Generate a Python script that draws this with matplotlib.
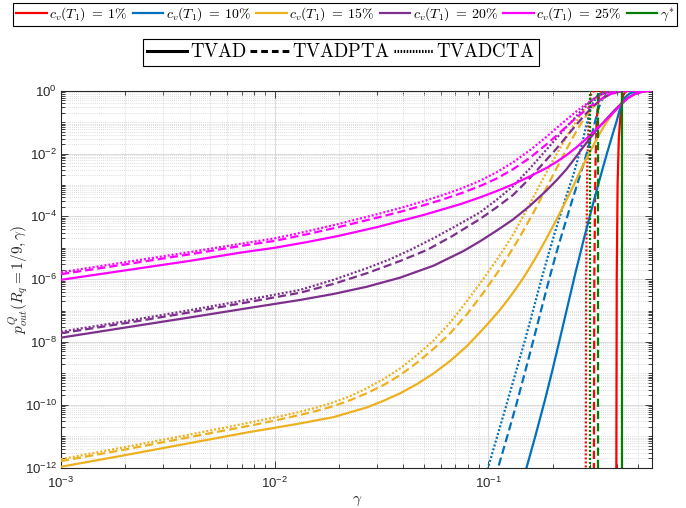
import numpy as np
import matplotlib
matplotlib.use("Agg")
import matplotlib.pyplot as plt
from matplotlib.lines import Line2D
from matplotlib.font_manager import FontProperties
from matplotlib.ticker import FixedLocator, LogLocator, FuncFormatter, NullFormatter

plt.rcParams['font.family'] = ['Liberation Sans', 'DejaVu Sans']
plt.rcParams['mathtext.fontset'] = 'custom'
plt.rcParams['mathtext.rm'] = 'Liberation Sans'
plt.rcParams['mathtext.it'] = 'Liberation Sans:italic'
plt.rcParams['mathtext.bf'] = 'Liberation Sans:bold'
plt.rcParams['mathtext.sf'] = 'Liberation Sans'

# ---- data: log10(gamma) and log10(p_out) ----
# cv = 25% (magenta)
m_s_lg = [-3, -2.7, -2.4, -2.156, -2.0, -1.85, -1.7, -1.52, -1.3, -1.126, -1.041, -0.963, -0.885, -0.807, -0.729, -0.68, -0.635, -0.588, -0.541, -0.494, -0.448, -0.41, -0.377, -0.35, -0.32, -0.29, -0.26, -0.234]
m_s_lp = [-6.02, -5.72, -5.42, -5.15, -5.0, -4.82, -4.62, -4.34, -3.95, -3.60, -3.40, -3.20, -2.98, -2.73, -2.46, -2.26, -2.05, -1.80, -1.52, -1.22, -0.92, -0.66, -0.42, -0.25, -0.12, -0.05, -0.015, 0]
m_d_lg = [-3, -2.7, -2.4, -2.156, -2.0, -1.85, -1.7, -1.52, -1.41, -1.3, -1.213, -1.126, -1.041, -0.963, -0.885, -0.807, -0.729, -0.68, -0.635, -0.596, -0.557, -0.52, -0.487, -0.46, -0.43, -0.40, -0.37, -0.34, -0.234]
m_d_lp = [-5.84, -5.53, -5.21, -4.94, -4.78, -4.57, -4.34, -4.04, -3.85, -3.64, -3.46, -3.26, -3.04, -2.80, -2.50, -2.14, -1.71, -1.42, -1.14, -0.90, -0.68, -0.48, -0.33, -0.21, -0.11, -0.05, -0.02, -0.005, 0]
m_o_lg = [-3, -2.7, -2.4, -2.156, -2.0, -1.85, -1.7, -1.52, -1.41, -1.3, -1.213, -1.126, -1.041, -0.963, -0.885, -0.807, -0.729, -0.68, -0.635, -0.596, -0.56, -0.526, -0.5, -0.47, -0.44, -0.41, -0.38, -0.234]
m_o_lp = [-5.78, -5.46, -5.14, -4.87, -4.70, -4.48, -4.24, -3.93, -3.73, -3.51, -3.32, -3.11, -2.87, -2.60, -2.28, -1.90, -1.47, -1.18, -0.92, -0.70, -0.51, -0.35, -0.23, -0.12, -0.05, -0.02, -0.005, 0]

# cv = 20% (purple)
p_s_lg = [-3, -2.7, -2.4, -2.115, -1.881, -1.725, -1.569, -1.413, -1.257, -1.116, -1.041, -0.963, -0.885, -0.807, -0.729, -0.68, -0.635, -0.588, -0.541, -0.494, -0.448, -0.41, -0.377, -0.35, -0.32, -0.29, -0.26, -0.234]
p_s_lp = [-7.86, -7.54, -7.22, -6.91, -6.66, -6.47, -6.24, -5.95, -5.57, -5.10, -4.80, -4.46, -4.10, -3.67, -3.18, -2.84, -2.50, -2.08, -1.65, -1.25, -0.90, -0.62, -0.40, -0.24, -0.12, -0.05, -0.015, 0]
p_d_lg = [-3, -2.7, -2.4, -2.115, -1.881, -1.725, -1.569, -1.413, -1.288, -1.17, -1.041, -0.963, -0.885, -0.807, -0.729, -0.68, -0.635, -0.596, -0.557, -0.52, -0.487, -0.46, -0.43, -0.40, -0.37, -0.34, -0.234]
p_d_lp = [-7.72, -7.40, -7.06, -6.72, -6.43, -6.15, -5.81, -5.42, -5.07, -4.63, -4.09, -3.72, -3.32, -2.79, -2.20, -1.83, -1.46, -1.14, -0.83, -0.56, -0.36, -0.22, -0.11, -0.05, -0.02, -0.005, 0]
p_o_lg = [-3, -2.7, -2.4, -2.115, -1.881, -1.725, -1.569, -1.466, -1.366, -1.25, -1.145, -1.041, -0.963, -0.885, -0.807, -0.729, -0.68, -0.635, -0.595, -0.56, -0.526, -0.5, -0.47, -0.44, -0.41, -0.38, -0.234]
p_o_lp = [-7.67, -7.34, -6.99, -6.64, -6.34, -6.02, -5.65, -5.38, -5.07, -4.67, -4.28, -3.88, -3.48, -3.04, -2.48, -1.88, -1.50, -1.15, -0.86, -0.59, -0.36, -0.22, -0.11, -0.05, -0.02, -0.005, 0]

# cv = 15% (yellow)
y_s_lg = [-3, -2.7, -2.4, -2.115, -2.0, -1.881, -1.725, -1.569, -1.491, -1.413, -1.335, -1.257, -1.179, -1.101, -1.023, -0.985, -0.947, -0.91, -0.885, -0.853, -0.822, -0.776, -0.729, -0.69, -0.65, -0.611, -0.572, -0.533, -0.494, -0.455, -0.416, -0.377, -0.35, -0.32, -0.29, -0.26, -0.234]
y_s_lp = [-11.97, -11.60, -11.22, -10.86, -10.73, -10.59, -10.39, -10.08, -9.87, -9.63, -9.34, -9.0, -8.60, -8.13, -7.57, -7.28, -6.98, -6.66, -6.43, -6.12, -5.80, -5.28, -4.71, -4.21, -3.68, -3.14, -2.58, -2.04, -1.54, -1.08, -0.70, -0.40, -0.24, -0.12, -0.05, -0.015, 0]
y_d_lg = [-3, -2.7, -2.4, -2.115, -2.0, -1.881, -1.803, -1.725, -1.647, -1.569, -1.491, -1.413, -1.335, -1.257, -1.179, -1.101, -1.023, -0.955, -0.906, -0.853, -0.791, -0.729, -0.69, -0.65, -0.611, -0.572, -0.54, -0.51, -0.487, -0.46, -0.43, -0.40, -0.37, -0.34, -0.234]
y_d_lp = [-11.79, -11.42, -11.03, -10.66, -10.50, -10.32, -10.19, -10.04, -9.85, -9.63, -9.37, -9.05, -8.66, -8.22, -7.72, -7.12, -6.42, -5.76, -5.24, -4.65, -3.90, -3.10, -2.58, -2.06, -1.56, -1.10, -0.77, -0.52, -0.36, -0.22, -0.11, -0.05, -0.02, -0.005, 0]
y_o_lg = [-3, -2.7, -2.4, -2.115, -2.0, -1.881, -1.803, -1.725, -1.647, -1.569, -1.491, -1.413, -1.335, -1.257, -1.179, -1.101, -1.023, -0.963, -0.924, -0.885, -0.822, -0.76, -0.705, -0.65, -0.611, -0.572, -0.55, -0.526, -0.5, -0.47, -0.44, -0.41, -0.38, -0.234]
y_o_lp = [-11.73, -11.34, -10.95, -10.56, -10.40, -10.22, -10.08, -9.92, -9.72, -9.47, -9.18, -8.84, -8.42, -7.95, -7.38, -6.70, -5.98, -5.40, -5.00, -4.58, -3.80, -3.00, -2.30, -1.65, -1.20, -0.80, -0.58, -0.38, -0.24, -0.12, -0.05, -0.02, -0.005, 0]

# cv = 10% (blue)
b_s_lg = [-0.835, -0.822, -0.779, -0.736, -0.701, -0.666, -0.63, -0.595, -0.553, -0.51, -0.479, -0.448, -0.424, -0.401, -0.388, -0.377, -0.36, -0.34, -0.32, -0.30, -0.27, -0.234]
b_s_lp = [-12.3, -12.0, -10.95, -9.85, -8.90, -7.90, -6.86, -5.85, -4.70, -3.58, -2.80, -2.05, -1.50, -0.98, -0.66, -0.42, -0.21, -0.09, -0.04, -0.015, 0, 0]
b_d_lg = [-0.97, -0.955, -0.912, -0.869, -0.83, -0.791, -0.752, -0.713, -0.682, -0.65, -0.611, -0.572, -0.545, -0.518, -0.502, -0.487, -0.47, -0.45, -0.43, -0.40, -0.37, -0.234]
b_d_lp = [-12.3, -12.0, -11.0, -9.97, -8.98, -7.97, -6.94, -5.92, -5.15, -4.42, -3.55, -2.70, -2.10, -1.45, -1.00, -0.60, -0.30, -0.13, -0.05, -0.015, 0, 0]
b_o_lg = [-1.015, -1.002, -0.959, -0.916, -0.873, -0.83, -0.791, -0.752, -0.717, -0.682, -0.643, -0.604, -0.582, -0.56, -0.543, -0.526, -0.51, -0.49, -0.47, -0.44, -0.40, -0.234]
b_o_lp = [-12.3, -12.0, -11.0, -10.0, -8.98, -7.96, -6.98, -6.0, -5.15, -4.35, -3.50, -2.70, -2.18, -1.62, -1.12, -0.68, -0.38, -0.16, -0.06, -0.02, 0, 0]

# cv = 1% (red)
r_s_lg = [-0.402, -0.400, -0.396, -0.39, -0.383, -0.377, -0.37, -0.36, -0.35, -0.234]
r_s_lp = [-12.5, -6, -3, -1.5, -0.8, -0.40, -0.15, -0.04, 0, 0]
r_d_lg = [-0.507, -0.505, -0.5, -0.494, -0.487, -0.48, -0.47, -0.46, -0.234]
r_d_lp = [-12.5, -6, -2.5, -1.0, -0.36, -0.12, -0.03, 0, 0]
r_o_lg = [-0.545, -0.543, -0.538, -0.532, -0.526, -0.52, -0.51, -0.5, -0.234]
r_o_lp = [-12.5, -6, -2.5, -1, -0.36, -0.12, -0.03, 0, 0]

# gamma* (green vertical lines): TVAD, TVADPTA, TVADCTA
gamma_star = [0.420, 0.326, 0.298]

cv_labels = [r'$c_v(T_1)\;=\;1\%$', r'$c_v(T_1)\;=\;10\%$', r'$c_v(T_1)\;=\;15\%$',
             r'$c_v(T_1)\;=\;20\%$', r'$c_v(T_1)\;=\;25\%$', r'$\gamma^{*}$']
method_labels = [r'$\mathrm{TVAD}$', r'$\mathrm{TVADPTA}$', r'$\mathrm{TVADCTA}$']

colors = {'r': (1, 0, 0), 'b': (0, 0.447, 0.741), 'y': (0.929, 0.694, 0.125),
          'p': (0.494, 0.184, 0.556), 'm': (1, 0, 1), 'g': (0, 0.5, 0)}
LW = 1.6
styles = {'s': dict(linestyle='-'),
          'd': dict(linestyle=(0, (3.7, 1.8))),
          'o': dict(linestyle=(0, (0.9, 0.9)))}

fig = plt.figure(figsize=(6.86, 5.08), dpi=100)
ax = fig.add_axes([0.0889, 0.0793, 0.8622, 0.7422])

curves = [
    ('r', r_s_lg, r_s_lp, 's'), ('r', r_d_lg, r_d_lp, 'd'), ('r', r_o_lg, r_o_lp, 'o'),
    ('b', b_s_lg, b_s_lp, 's'), ('b', b_d_lg, b_d_lp, 'd'), ('b', b_o_lg, b_o_lp, 'o'),
    ('y', y_s_lg, y_s_lp, 's'), ('y', y_d_lg, y_d_lp, 'd'), ('y', y_o_lg, y_o_lp, 'o'),
    ('p', p_s_lg, p_s_lp, 's'), ('p', p_d_lg, p_d_lp, 'd'), ('p', p_o_lg, p_o_lp, 'o'),
    ('m', m_s_lg, m_s_lp, 's'), ('m', m_d_lg, m_d_lp, 'd'), ('m', m_o_lg, m_o_lp, 'o'),
]
for c, lg, lp, st in curves:
    ax.plot(10.0 ** np.array(lg), 10.0 ** np.array(lp), color=colors[c], lw=LW,
            **styles[st], zorder=3, solid_joinstyle='round')
for g, st in zip(gamma_star, ['s', 'd', 'o']):
    ax.plot([g, g], [1e-12, 1], color=colors['g'], lw=LW, **styles[st], zorder=3)

ax.set_xscale('log')
ax.set_yscale('log')
ax.set_xlim(1e-3, 0.585)
ax.set_ylim(1e-12, 1)

ax.xaxis.set_major_locator(FixedLocator([1e-3, 1e-2, 1e-1]))
ax.xaxis.set_minor_locator(LogLocator(base=10, subs=np.arange(2, 10), numticks=20))
ax.yaxis.set_major_locator(FixedLocator([10.0 ** e for e in range(-12, 1, 2)]))
ax.yaxis.set_minor_locator(LogLocator(base=10, subs=np.arange(1, 10), numticks=30))

def fmt(v, pos):
    e = int(round(np.log10(v)))
    return r'$10^{%d}$' % e

ax.xaxis.set_major_formatter(FuncFormatter(fmt))
ax.yaxis.set_major_formatter(FuncFormatter(fmt))
ax.xaxis.set_minor_formatter(NullFormatter())
ax.yaxis.set_minor_formatter(NullFormatter())

tc = '#262626'
ax.tick_params(which='both', direction='in', top=True, right=True, colors=tc,
               labelsize=9.5, width=0.6)
ax.tick_params(which='major', length=5)
ax.tick_params(which='minor', length=2.8)
ax.tick_params(axis='x', which='major', pad=6)
ax.tick_params(axis='y', which='major', pad=3)
for s in ax.spines.values():
    s.set_color(tc)
    s.set_linewidth(0.8)

ax.set_axisbelow(True)
ax.grid(True, which='major', color='#dcdcdc', lw=0.8, ls='-')
ax.grid(True, which='minor', color='#d4d4d4', lw=0.6, ls=(0, (1, 1.5)))

ax.set_xlabel(r'$\gamma$', fontsize=11, color=tc, math_fontfamily='cm')
ax.set_ylabel(r'$p^{Q}_{out}(R_q = 1/9, \gamma)$', fontsize=11, color=tc, math_fontfamily='cm')
ax.xaxis.set_label_coords(0.5, -0.07)
ax.yaxis.set_label_coords(-0.053, 0.5)

# legend 1 (colours)
h1 = [Line2D([], [], color=colors[c], lw=LW) for c in ['r', 'b', 'y', 'p', 'm', 'g']]
leg1 = fig.legend(h1, cv_labels, loc='center', bbox_to_anchor=(0.503, 0.9715),
                  ncol=6, prop=FontProperties(size=10, math_fontfamily='cm'),
                  frameon=True, fancybox=False, framealpha=1,
                  edgecolor='black', handlelength=2.2, handletextpad=0.2,
                  columnspacing=0.35, borderpad=0.2, borderaxespad=0)
leg1.get_frame().set_linewidth(0.8)

# legend 2 (methods)
h2 = [Line2D([], [], color='black', lw=2.2, linestyle='-'),
      Line2D([], [], color='black', lw=2.2, linestyle=(0, (2.2, 1.3))),
      Line2D([], [], color='black', lw=2.2, linestyle=(0, (0.5, 0.5)))]
leg2 = fig.legend(h2, method_labels, loc='center', bbox_to_anchor=(0.497, 0.897),
                  ncol=3, prop=FontProperties(size=13.5, math_fontfamily='cm'),
                  frameon=True, fancybox=False, framealpha=1,
                  edgecolor='black', handlelength=2.1, handletextpad=0.15,
                  columnspacing=0.2, borderpad=0.25, borderaxespad=0)
leg2.get_frame().set_linewidth(0.8)

fig.savefig('out.png', dpi=100)
